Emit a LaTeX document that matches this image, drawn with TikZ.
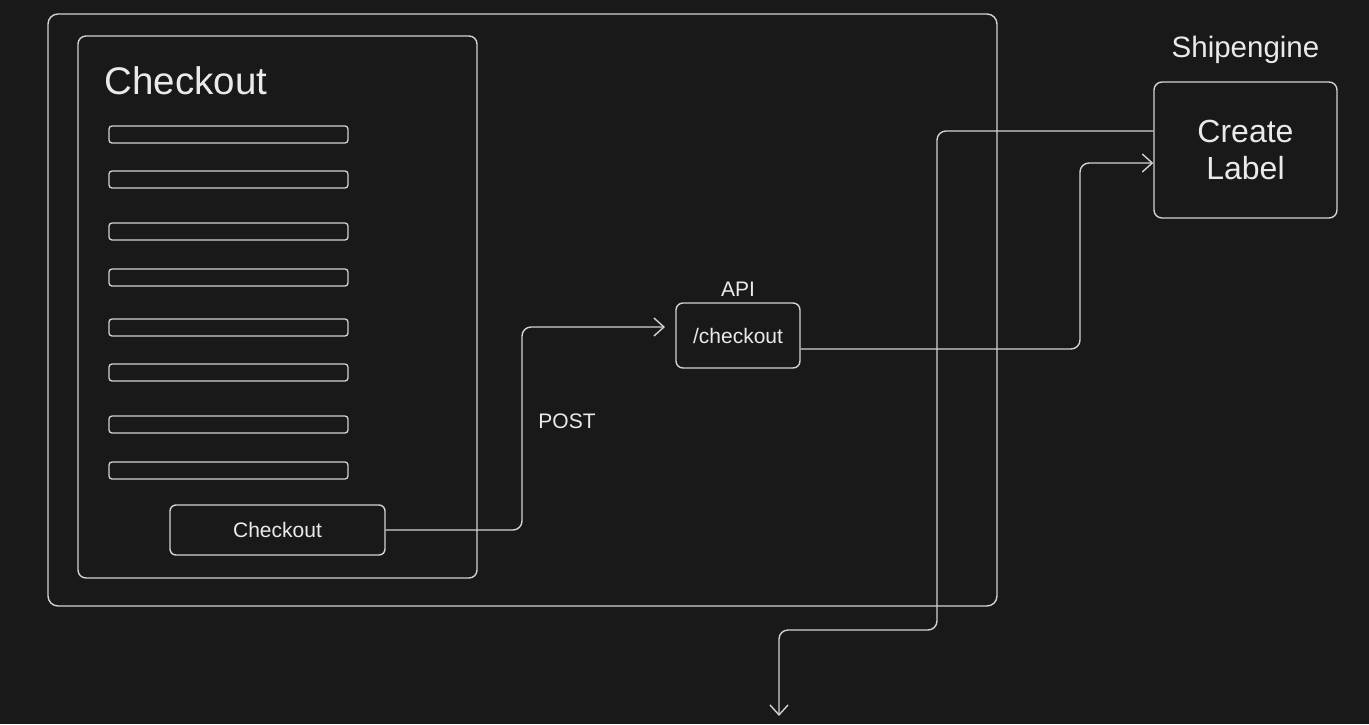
\documentclass[tikz,border=0pt]{standalone}
\usepackage{fontspec}
\setmainfont{Liberation Sans}
\usetikzlibrary{arrows.meta}
\definecolor{bg}{HTML}{191919}
\definecolor{ln}{HTML}{D2D2D2}
\definecolor{tx}{HTML}{EAEAEA}
\tikzset{
  box/.style={draw=ln, line width=1.4pt, rounded corners=8pt, inner sep=0pt},
  bar/.style={draw=ln, line width=1.3pt, rounded corners=3pt, minimum width=239pt, minimum height=17pt, inner sep=0pt},
  conn/.style={draw=ln, line width=1.4pt, rounded corners=9pt, -{Straight Barb[length=10pt,width=18pt,line width=1.4pt]}},
  lbl/.style={text=tx, inner sep=0pt, font=\fontsize{21}{25}\selectfont},
}
\begin{document}
\begin{tikzpicture}[x=1pt,y=-1pt]
\fill[bg] (0,0) rectangle (1369,724);
\useasboundingbox (0,0) rectangle (1369,724);
% containers
\node[box, rounded corners=10pt, minimum width=949pt, minimum height=592pt] (outer) at (522.5,310) {};
\node[box, minimum width=399pt, minimum height=542pt] (inner) at (277.5,307) {};
\node[lbl, anchor=west, font=\fontsize{38.5}{42}\selectfont] (title) at (104.5,81) {Checkout};
% form fields
\node[bar] (f1) at (228.5,134.5) {};
\node[bar] (f2) at (228.5,179.5) {};
\node[bar] (f3) at (228.5,231.5) {};
\node[bar] (f4) at (228.5,277.5) {};
\node[bar] (f5) at (228.5,327.5) {};
\node[bar] (f6) at (228.5,372.5) {};
\node[bar] (f7) at (228.5,424.5) {};
\node[bar] (f8) at (228.5,470.5) {};
% button
\node[box, rounded corners=6pt, minimum width=215pt, minimum height=50pt, lbl] (btn) at (277.5,530) {Checkout};
% api
\node[box, rounded corners=7pt, minimum width=124pt, minimum height=65pt, lbl] (api) at (738,335.5) {/checkout};
\node[lbl] (apilbl) at (738,289) {API};
% shipengine
\node[box, minimum width=183pt, minimum height=136pt, text=tx, align=center, font=\fontsize{32}{37}\selectfont] (cl) at (1245.5,150) {Create\\Label};
\node[lbl, font=\fontsize{29.5}{33}\selectfont] (ship) at (1245.5,50) {Shipengine};
% POST label
\node[lbl] (post) at (567,421) {POST};
% connectors
\coordinate (apiin) at (665,327);
\coordinate (down) at (779,716);
\draw[conn] (btn.east) -- (522,530) -- (522,327) -- (apiin);
\draw[conn] ([yshift=-13.5pt]api.east) -- (1080,349) -- (1080,163) -- ([yshift=-13pt]cl.west);
\draw[conn] ([yshift=19pt]cl.west) -- (937,131) -- (937,630) -- (779,630) -- (down);
\end{tikzpicture}
\end{document}
